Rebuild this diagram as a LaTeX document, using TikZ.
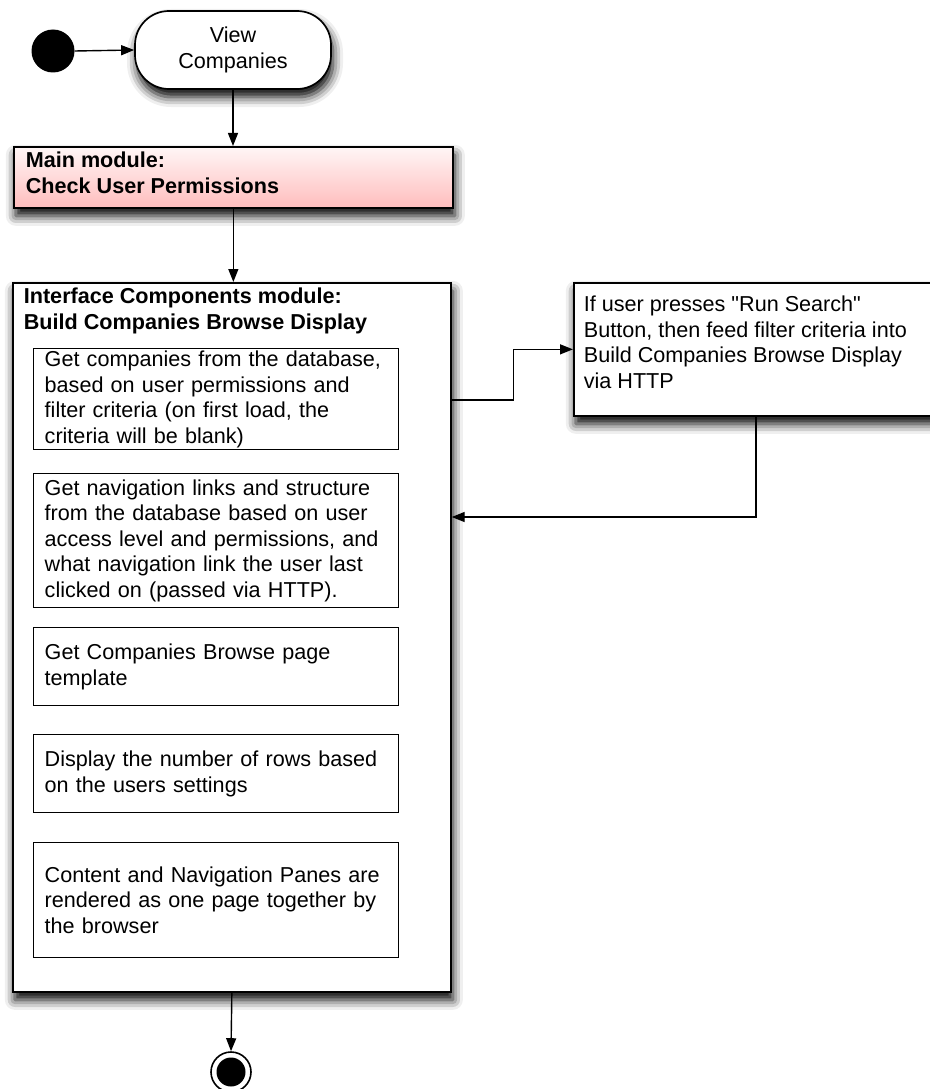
\documentclass[tikz,border=0pt]{standalone}
\usepackage{fontspec}
\setmainfont{Liberation Sans}
\usetikzlibrary{arrows.meta,calc,shadows.blur}
\definecolor{pinktop}{HTML}{FFF6F6}
\definecolor{pinkbottom}{HTML}{FFBDBD}
\begin{document}
\begin{tikzpicture}[x=1pt,y=-1pt,
  every node/.style={font=\fontsize{21.6}{25.5}\selectfont},
  box/.style={draw=black, line width=1.7pt, fill=white, rectangle,
    anchor=north west, inner sep=0pt},
  softshadow/.style={blur shadow={shadow xshift=2pt, shadow yshift=-8pt,
    shadow blur radius=10pt, shadow opacity=100}},
  stepbox/.style={draw=black, line width=1.4pt, fill=white, rectangle,
    anchor=north west, align=left, inner xsep=11pt, inner ysep=0pt,
    text width=343pt, minimum width=365pt},
  flow/.style={line width=1.4pt, -{Triangle[length=13pt,width=10pt]}},
]
\useasboundingbox (0,0) rectangle (929,1089);

% start and activity entry
\node[circle, fill=black, minimum size=43pt, inner sep=0pt] (start) at (53,51) {};
\node[draw=black, line width=1.7pt, fill=white, rectangle, rounded corners=34pt,
  minimum width=196pt, minimum height=78pt, align=center, softshadow]
  (view) at (233,50) {View\\Companies};

% main module
\node[box, softshadow, top color=pinktop, bottom color=pinkbottom,
  inner xsep=12pt, inner ysep=5pt] (main) at (13,146)
  {\parbox[t][51pt][t]{415pt}{\bfseries Main module:\\Check User Permissions}};

% interface components module with its steps
\node[box, softshadow, inner xsep=11pt, inner ysep=5pt] (icm) at (12,282)
  {\parbox[t][699pt][t]{416pt}{\bfseries Interface Components module:\\Build Companies Browse Display}};

\node[stepbox, minimum height=101pt] (s1) at (33,348)
  {Get companies from the database,\\based on user permissions and\\filter criteria (on first load, the\\criteria will be blank)};
\node[stepbox, minimum height=134pt] (s2) at (33,473)
  {Get navigation links and structure\\from the database based on user\\access level and permissions, and\\what navigation link the user last\\clicked on (passed via HTTP).};
\node[stepbox, minimum height=78pt] (s3) at (33,627)
  {Get Companies Browse page\\template};
\node[stepbox, minimum height=78pt] (s4) at (33,734)
  {Display the number of rows based\\on the users settings};
\node[stepbox, minimum height=115pt] (s5) at (33,842)
  {Content and Navigation Panes are\\rendered as one page together by\\the browser};

% search feedback
\node[box, softshadow, inner xsep=10pt, inner ysep=13pt] (search) at (573,282)
  {\parbox[t][107pt][t]{350pt}{If user presses \textquotedbl Run Search\textquotedbl\\Button, then feed filter criteria into\\Build Companies Browse Display\\via HTTP}};

% final state
\node[circle, draw=black, line width=1.6pt, fill=white, minimum size=40pt, inner sep=0pt] (end) at (231,1072) {};
\node[circle, fill=black, minimum size=29pt, inner sep=0pt] (endcore) at (end.center) {};

% connectors
\draw[flow] (start.east) -- (view.west);
\draw[flow] (view.south) -- (view.south |- main.north);
\draw[flow] (main.south) -- (main.south |- icm.north);
\draw[flow] ($(icm.north east)+(0,118)$) -- ++(62,0) |- (search.west);
\draw[flow] ($(search.south west)+(183,0)$) |- ($(icm.north east)+(0,235)$);
\draw[flow] (icm.south) -- (end.north);
\end{tikzpicture}
\end{document}
